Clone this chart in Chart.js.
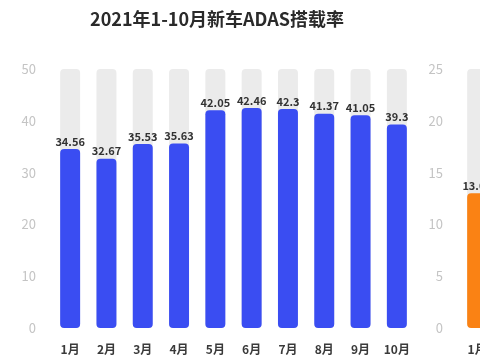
<!DOCTYPE html>
<html>
<head>
<meta charset="utf-8">
<script src="https://cdn.jsdelivr.net/npm/chart.js@4.4.0/dist/chart.umd.min.js"></script>
<style>
  html, body { margin: 0; padding: 0; background: #fff; }
  body { width: 480px; height: 360px; overflow: hidden; position: relative; }
  .box { position: absolute; top: 0; width: 420px; height: 360px; }
</style>
</head>
<body>
<div class="box" style="left:0"><canvas id="leftChart"></canvas></div>
<div class="box" style="left:407px"><canvas id="rightChart"></canvas></div>
<script>
// 왼쪽: 2021년 1-10월 신차 ADAS 탑재율
const months = ['1月','2月','3月','4月','5月','6月','7月','8月','9月','10月'];
const adasRate = [34.56, 32.67, 35.53, 35.63, 42.05, 42.46, 42.3, 41.37, 41.05, 39.3];
const leftMax = 50;
// 오른쪽 차트 (잘려서 1월만 보임)
const rightMonths = ['1月','','','','','','','','',''];
const rightRate = [13.01];
const rightMax = 25;

const FONT = "'Noto Sans CJK SC', 'Noto Sans', sans-serif";

// 막대 위 숫자 표시
const valueLabels = {
  id: 'valueLabels',
  afterDatasetsDraw(chart) {
    const ctx = chart.ctx;
    const meta = chart.getDatasetMeta(0);
    ctx.save();
    ctx.font = "600 11px " + FONT;
    ctx.fillStyle = '#333';
    ctx.textAlign = 'center';
    ctx.textBaseline = 'bottom';
    meta.data.forEach((bar, i) => {
      ctx.fillText(String(chart.data.datasets[0].data[i]), bar.x, bar.y - 2);
    });
    ctx.restore();
  }
};

function makeChart(id, labels, values, max, step, color, title) {
  const c = document.getElementById(id);
  c.width = 420; c.height = 360;
  c.style.width = '420px'; c.style.height = '360px';
  return new Chart(c, {
    type: 'bar',
    data: {
      labels: labels,
      datasets: [{
        data: values,
        backgroundColor: color,
        borderRadius: 4,
        borderSkipped: false,
        order: 0
      }, {
        data: labels.map(() => max),
        backgroundColor: '#ebebeb',
        borderRadius: 4,
        borderSkipped: false,
        order: 1
      }]
    },
    options: {
      responsive: false,
      animation: false,
      devicePixelRatio: 1,
      datasets: { bar: { grouped: false, categoryPercentage: 1, barPercentage: 0.55 } },
      layout: { padding: { left: 19, right: 5, top: title ? 0 : 69, bottom: 0 } },
      plugins: {
        legend: { display: false },
        tooltip: { enabled: false },
        title: {
          display: !!title,
          text: title,
          color: '#2a2a2a',
          font: { family: FONT, size: 18, weight: 'bold' },
          padding: { top: 8, bottom: 39.4 }
        }
      },
      scales: {
        x: {
          grid: { display: false },
          border: { display: false },
          afterFit: s => { s.height = 32; },
          ticks: { color: '#3a3a3a', padding: 6, font: { family: FONT, size: 12, weight: 'bold' } }
        },
        y: {
          min: 0, max: max,
          grid: { display: false, drawTicks: false, tickLength: 0 },
          border: { display: false },
          afterFit: s => { s.width = 33; },
          ticks: { stepSize: step, color: '#c4c4c4', padding: 16, font: { family: FONT, size: 13 } }
        }
      }
    },
    plugins: [valueLabels]
  });
}

makeChart('leftChart', months, adasRate, leftMax, 10, '#3a4df2', '2021年1-10月新车ADAS搭载率');
makeChart('rightChart', rightMonths, rightRate, rightMax, 5, '#fa8214', '');
</script>
</body>
</html>
